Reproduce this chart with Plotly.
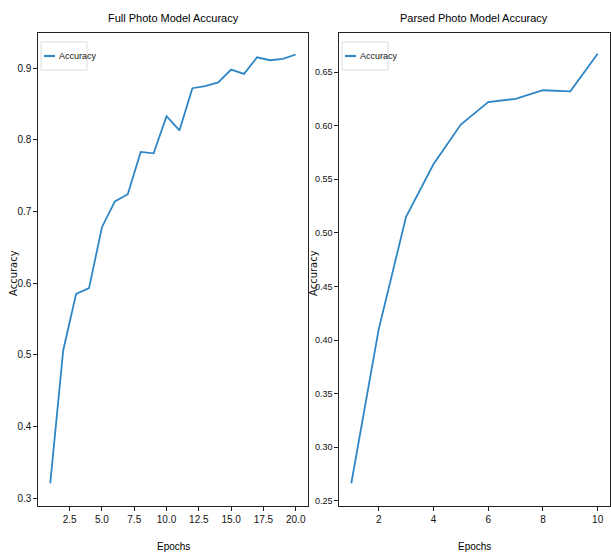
import plotly.graph_objects as go

# Data
full_epochs = list(range(1, 21))
full_accuracy = [0.321, 0.506, 0.585, 0.593, 0.678, 0.714, 0.724, 0.783, 0.781, 0.833,
                 0.813, 0.872, 0.875, 0.880, 0.898, 0.892, 0.915, 0.911, 0.913, 0.919]
parsed_epochs = list(range(1, 11))
parsed_accuracy = [0.2665, 0.410, 0.515, 0.564, 0.601, 0.622, 0.625, 0.633, 0.632, 0.667]

titles = ["Full Photo Model Accuracy", "Parsed Photo Model Accuracy"]
series_name = "Accuracy"
x_label = "Epochs"
y_label = "Accuracy"

W, H = 611, 558
line_color = "#2f86c4"
FONT = "Liberation Sans Narrow, Liberation Sans, Arial"

fig = go.Figure()
fig.add_trace(go.Scatter(x=full_epochs, y=full_accuracy, mode="lines", name=series_name,
                         line=dict(color=line_color, width=1.8), xaxis="x", yaxis="y",
                         showlegend=False))
fig.add_trace(go.Scatter(x=parsed_epochs, y=parsed_accuracy, mode="lines", name=series_name,
                         line=dict(color=line_color, width=1.8), xaxis="x2", yaxis="y2",
                         showlegend=False))

def px_x(p):
    return p / W

def px_y(p):
    return 1 - p / H

def axis_style(size):
    return dict(showgrid=False, zeroline=False, showline=True, linecolor="#222",
                linewidth=1.2, mirror=True, ticks="outside", ticklen=3.5,
                tickcolor="#222", automargin=False,
                tickfont=dict(family=FONT, size=size, color="#111"))

fig.update_layout(
    width=W, height=H,
    margin=dict(l=0, r=0, t=0, b=0, autoexpand=False),
    paper_bgcolor="white", plot_bgcolor="white",
    showlegend=False,
    xaxis=dict(domain=[px_x(38), px_x(308)], range=[0.05, 20.95], tickmode="array",
               tickvals=[2.5, 5, 7.5, 10, 12.5, 15, 17.5, 20],
               ticktext=["2.5", "5.0", "7.5", "10.0", "12.5", "15.0", "17.5", "20.0"],
               anchor="y", **axis_style(10)),
    yaxis=dict(domain=[px_y(506), px_y(33)], range=[0.289, 0.949], tickmode="array",
               tickvals=[0.3, 0.4, 0.5, 0.6, 0.7, 0.8, 0.9],
               ticktext=["0.3", "0.4", "0.5", "0.6", "0.7", "0.8", "0.9"],
               anchor="x", **axis_style(10)),
    xaxis2=dict(domain=[px_x(339), px_x(610)], range=[0.55, 10.45], tickmode="array",
                tickvals=[2, 4, 6, 8, 10], ticktext=["2", "4", "6", "8", "10"],
                anchor="y2", **axis_style(10)),
    yaxis2=dict(domain=[px_y(506), px_y(33)], range=[0.2453, 0.6864], tickmode="array",
                tickvals=[0.25, 0.30, 0.35, 0.40, 0.45, 0.50, 0.55, 0.60, 0.65],
                ticktext=["0.25", "0.30", "0.35", "0.40", "0.45", "0.50", "0.55", "0.60", "0.65"],
                anchor="x2", **axis_style(9)),
)

ann = []
# titles
for t, cx in zip(titles, (173, 474)):
    ann.append(dict(text=t, x=px_x(cx), y=px_y(18), xref="paper", yref="paper",
                    xanchor="center", yanchor="middle",
                    showarrow=False, font=dict(family=FONT, size=11, color="#000")))
# x labels
for cx in (173, 474):
    ann.append(dict(text=x_label, x=px_x(cx), y=px_y(546), xref="paper", yref="paper",
                    xanchor="center", yanchor="middle",
                    showarrow=False, font=dict(family=FONT, size=10, color="#000")))
# y labels
for cx in (13, 313):
    ann.append(dict(text=y_label, x=px_x(cx), y=px_y(273), xref="paper", yref="paper",
                    xanchor="center", yanchor="middle",
                    showarrow=False, textangle=-90,
                    font=dict(family="DejaVu Sans", size=10, color="#111")))
fig.update_layout(annotations=ann)

# legend boxes (drawn as shapes + text, mimicking matplotlib legends)
shapes = []
for (x0, x1) in ((41, 87), (342, 388)):
    shapes.append(dict(type="rect", xref="paper", yref="paper",
                       x0=px_x(x0), x1=px_x(x1), y0=px_y(70), y1=px_y(42),
                       line=dict(color="#dddddd", width=1), fillcolor="rgba(255,255,255,0.85)"))
    shapes.append(dict(type="line", xref="paper", yref="paper",
                       x0=px_x(x0 + 3), x1=px_x(x0 + 14), y0=px_y(56), y1=px_y(56),
                       line=dict(color=line_color, width=2.2)))
    fig.add_annotation(text=series_name, x=px_x(x0 + 16), y=px_y(56), xref="paper",
                       yref="paper", xanchor="left", yanchor="middle", showarrow=False,
                       font=dict(family=FONT, size=9, color="#111"))
fig.update_layout(shapes=shapes)

fig.write_html("out.html", config={"displayModeBar": False},
               post_script="document.body.style.margin='0';document.body.style.overflow='hidden';")
